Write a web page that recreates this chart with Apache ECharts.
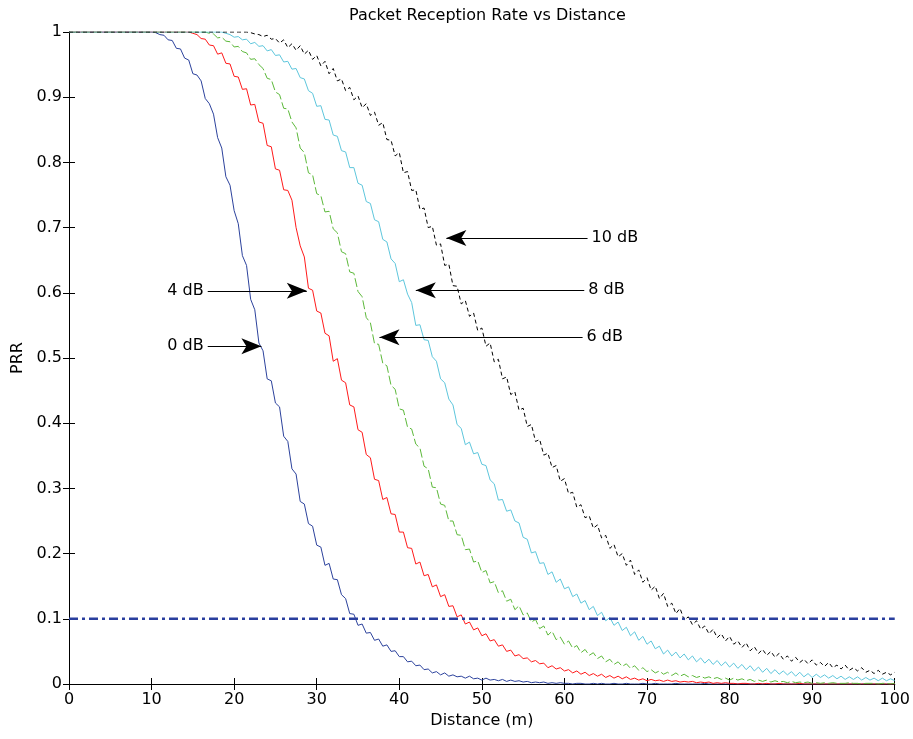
<!DOCTYPE html>
<html><head><meta charset="utf-8">
<script src="https://cdn.jsdelivr.net/npm/echarts@6/dist/echarts.min.js"></script>
<style>html,body{margin:0;padding:0;background:#fff}#c{width:913px;height:739px}</style>
</head><body><div id="c"></div>
<script>
// x: distance in metres, sampled every 0.5 m (0 .. 100)
const distance = Array.from({length:201},(_,i)=>i/2);
const xTicks = [0,10,20,30,40,50,60,70,80,90,100];
const yTicks = [0,0.1,0.2,0.3,0.4,0.5,0.6,0.7,0.8,0.9,1];
const prr0dB = [
1,1,1,1,1,1,1,1,1,1,1,1,1,1,1,1,1,1,1,1,
1,0.999,0.996,0.995,0.988,0.987,0.975,0.974,0.96,0.957,0.936,0.934,0.925,0.898,0.89,0.874,0.838,0.822,0.778,0.765,
0.726,0.706,0.657,0.642,0.59,0.574,0.523,0.511,0.468,0.465,0.431,0.425,0.38,0.372,0.33,0.322,0.28,0.276,0.246,0.242,
0.213,0.21,0.182,0.185,0.161,0.16,0.137,0.131,0.108,0.107,0.09,0.092,0.078,0.079,0.067,0.069,0.058,0.06,0.05,0.051,
0.042,0.042,0.034,0.035,0.028,0.029,0.022,0.023,0.017,0.019,0.014,0.017,0.012,0.014,0.011,0.012,0.009,0.012,0.008,0.009,
0.006,0.009,0.006,0.007,0.005,0.007,0.004,0.006,0.004,0.005,0.003,0.004,0.002,0.003,0.002,0.003,0.001,0.002,0.001,0.002,
0.001,0.001,0,0.001,0.001,0,0,0.001,0,0.001,0,0,0.001,0,0,0.001,0,0,0,0.001,
0,0,0.001,0,0,0,0,0.001,0,0,0,0,0,0,0.001,0,0,0,0,0,
0,0,0,0,0,0,0,0,0,0,0,0,0,0,0,0,0,0,0,0,
0,0,0,0,0,0,0,0,0,0,0,0,0,0,0,0,0,0,0,0,
0];
const prr4dB = [
1,1,1,1,1,1,1,1,1,1,1,1,1,1,1,1,1,1,1,1,
1,1,1,1,1,1,1,1,1,1,0.998,0.996,0.99,0.989,0.98,0.979,0.966,0.968,0.952,0.951,
0.932,0.931,0.912,0.913,0.888,0.889,0.862,0.86,0.826,0.824,0.79,0.788,0.758,0.757,0.742,0.7,0.672,0.655,0.607,0.604,
0.572,0.569,0.538,0.534,0.495,0.499,0.466,0.462,0.428,0.425,0.39,0.386,0.352,0.347,0.314,0.312,0.283,0.286,0.261,0.26,
0.233,0.233,0.209,0.208,0.184,0.187,0.166,0.168,0.149,0.152,0.134,0.137,0.119,0.12,0.103,0.106,0.092,0.095,0.083,0.086,
0.074,0.077,0.066,0.068,0.058,0.06,0.05,0.052,0.043,0.045,0.039,0.04,0.034,0.036,0.031,0.032,0.025,0.028,0.023,0.025,
0.02,0.022,0.017,0.02,0.015,0.018,0.013,0.016,0.012,0.015,0.01,0.013,0.009,0.012,0.008,0.011,0.007,0.009,0.006,0.008,
0.005,0.007,0.005,0.006,0.004,0.006,0.004,0.005,0.003,0.004,0.003,0.004,0.002,0.003,0.002,0.003,0.001,0.002,0.001,0.002,
0.001,0.001,0,0.001,0.001,0,0,0.001,0,0.001,0,0,0.001,0,0,0,0,0.001,0,0,
0,0,0,0,0,0,0,0,0,0,0,0,0,0,0,0,0,0,0,0,
0];
const prr6dB = [
1,1,1,1,1,1,1,1,1,1,1,1,1,1,1,1,1,1,1,1,
1,1,1,1,1,1,1,1,1,1,1,1,1,1,0.998,0.997,0.991,0.992,0.986,0.985,
0.977,0.978,0.97,0.968,0.958,0.959,0.95,0.944,0.929,0.927,0.908,0.904,0.883,0.882,0.862,0.853,0.822,0.815,0.784,0.781,
0.752,0.749,0.724,0.725,0.698,0.692,0.663,0.66,0.632,0.63,0.602,0.594,0.562,0.554,0.522,0.521,0.492,0.488,0.458,0.452,
0.422,0.42,0.394,0.391,0.368,0.362,0.334,0.33,0.302,0.301,0.276,0.274,0.25,0.25,0.229,0.228,0.206,0.207,0.187,0.189,
0.171,0.174,0.155,0.157,0.14,0.143,0.127,0.13,0.114,0.12,0.106,0.109,0.095,0.099,0.085,0.089,0.075,0.081,0.068,0.072,
0.061,0.066,0.055,0.059,0.048,0.053,0.044,0.048,0.039,0.043,0.034,0.038,0.03,0.034,0.027,0.031,0.024,0.028,0.021,0.025,
0.019,0.022,0.017,0.02,0.015,0.018,0.013,0.017,0.012,0.015,0.011,0.013,0.01,0.012,0.009,0.011,0.008,0.01,0.007,0.009,
0.006,0.009,0.006,0.008,0.005,0.007,0.004,0.006,0.004,0.006,0.003,0.005,0.003,0.004,0.002,0.004,0.002,0.003,0.002,0.003,
0.001,0.002,0.001,0.002,0.001,0.002,0.001,0.001,0.001,0.002,0.001,0.001,0,0.001,0.001,0.001,0,0.001,0.001,0,
0.001];
const prr8dB = [
1,1,1,1,1,1,1,1,1,1,1,1,1,1,1,1,1,1,1,1,
1,1,1,1,1,1,1,1,1,1,1,1,1,1,1,1,1,1,0.998,0.996,
0.992,0.993,0.988,0.989,0.982,0.984,0.978,0.979,0.971,0.973,0.964,0.965,0.954,0.955,0.943,0.944,0.93,0.928,0.91,0.906,
0.886,0.887,0.866,0.865,0.842,0.84,0.818,0.816,0.792,0.792,0.768,0.765,0.74,0.737,0.712,0.709,0.682,0.678,0.652,0.645,
0.617,0.62,0.598,0.585,0.55,0.551,0.528,0.527,0.502,0.495,0.468,0.462,0.437,0.428,0.398,0.392,0.367,0.371,0.353,0.355,
0.337,0.335,0.313,0.307,0.282,0.283,0.265,0.267,0.25,0.247,0.225,0.222,0.201,0.203,0.185,0.186,0.168,0.172,0.156,0.161,
0.146,0.149,0.134,0.138,0.124,0.128,0.114,0.119,0.105,0.11,0.097,0.102,0.09,0.095,0.082,0.087,0.074,0.08,0.067,0.073,
0.061,0.066,0.054,0.058,0.046,0.052,0.043,0.049,0.04,0.046,0.037,0.043,0.034,0.04,0.032,0.038,0.03,0.036,0.028,0.034,
0.026,0.032,0.024,0.03,0.022,0.028,0.02,0.026,0.018,0.024,0.016,0.022,0.015,0.02,0.014,0.019,0.012,0.018,0.011,0.016,
0.01,0.015,0.01,0.014,0.009,0.013,0.008,0.012,0.007,0.011,0.007,0.011,0.006,0.01,0.006,0.009,0.005,0.009,0.005,0.008,
0.005];
const prr10dB = [
1,1,1,1,1,1,1,1,1,1,1,1,1,1,1,1,1,1,1,1,
1,1,1,1,1,1,1,1,1,1,1,1,1,1,1,1,1,1,1,1,
1,1,1,1,0.999,0.997,0.996,0.993,0.995,0.989,0.99,0.983,0.988,0.976,0.982,0.972,0.979,0.966,0.972,0.958,
0.964,0.948,0.955,0.936,0.944,0.925,0.928,0.91,0.915,0.896,0.902,0.884,0.89,0.872,0.877,0.857,0.861,0.835,0.834,0.81,
0.815,0.784,0.786,0.757,0.758,0.728,0.73,0.7,0.702,0.673,0.675,0.642,0.644,0.611,0.61,0.583,0.588,0.564,0.569,0.542,
0.546,0.518,0.523,0.494,0.498,0.468,0.471,0.444,0.448,0.42,0.423,0.395,0.398,0.372,0.375,0.351,0.354,0.332,0.335,0.311,
0.315,0.292,0.294,0.271,0.275,0.255,0.258,0.239,0.244,0.224,0.228,0.208,0.214,0.195,0.2,0.182,0.19,0.168,0.175,0.156,
0.163,0.144,0.15,0.131,0.139,0.119,0.124,0.108,0.116,0.098,0.103,0.091,0.097,0.084,0.089,0.077,0.084,0.071,0.077,0.066,
0.073,0.061,0.066,0.056,0.063,0.051,0.057,0.047,0.053,0.044,0.05,0.041,0.047,0.038,0.043,0.035,0.041,0.033,0.038,0.031,
0.037,0.029,0.033,0.027,0.033,0.025,0.029,0.023,0.029,0.021,0.025,0.02,0.025,0.018,0.021,0.016,0.021,0.015,0.018,0.014,
0.018];
const threshold = 0.1;
const annotations = [
  {text:'10 dB', from:[62.8,0.684], to:[45.7,0.684]},
  {text:'8 dB', from:[62.4,0.604], to:[42.0,0.604]},
  {text:'6 dB', from:[62.2,0.532], to:[37.6,0.532]},
  {text:'4 dB', from:[16.8,0.603], to:[28.8,0.603]},
  {text:'0 dB', from:[16.8,0.518], to:[23.3,0.518]}
];

const font = 'DejaVu Sans, Liberation Sans, Arial, sans-serif';
const pairs = arr => distance.map((d,i)=>[d,arr[i]]);
const curve = (name, arr, color, type) => ({
  name, type:'line', data: pairs(arr), showSymbol:false, symbol:'none',
  lineStyle:{color, width:1, type: type || 'solid'}, z:3
});

const chart = echarts.init(document.getElementById('c'), null, {renderer:'canvas'});
const axCommon = {
  min:0, axisLine:{show:true, lineStyle:{color:'#000', width:1}},
  axisTick:{show:true, inside:true, length:6, lineStyle:{color:'#000'}},
  splitLine:{show:false}
};
chart.setOption({
  animation:false,
  backgroundColor:'#fff',
  title:{text:'Packet Reception Rate vs Distance', left:482.5, textAlign:'center', top:3,
    textStyle:{fontFamily:font, fontSize:16, fontWeight:'normal', color:'#000'}},
  grid:{left:69, right:17, top:32, bottom:55},
  xAxis:[
    Object.assign({}, axCommon, {type:'value', position:'bottom', max:100, interval:10,
      name:'Distance (m)', nameLocation:'middle', nameGap:28,
      nameTextStyle:{fontFamily:font, fontSize:16, color:'#000'},
      axisLabel:{fontFamily:font, fontSize:16, color:'#000', margin:8,
        formatter: v => xTicks.includes(v) ? String(v) : ''}}),
    Object.assign({}, axCommon, {type:'value', position:'top', max:100, interval:10, axisLabel:{show:false}})
  ],
  yAxis:[
    Object.assign({}, axCommon, {type:'value', position:'left', max:1, interval:0.1,
      name:'PRR', nameLocation:'middle', nameGap:43,
      nameTextStyle:{fontFamily:font, fontSize:16, color:'#000'},
      axisLabel:{fontFamily:font, fontSize:16, color:'#000', margin:7,
        formatter: v => { const t = yTicks.find(y => Math.abs(y - v) < 1e-9); return t === undefined ? '' : String(t); }}}),
    Object.assign({}, axCommon, {type:'value', position:'right', max:1, interval:0.1, axisLabel:{show:false}})
  ],
  series:[
    curve('0 dB', prr0dB, '#2c429c'),
    curve('4 dB', prr4dB, '#ff1a1a'),
    curve('6 dB', prr6dB, '#5cb83a', [9,3]),
    curve('8 dB', prr8dB, '#5ec6dc'),
    curve('10 dB', prr10dB, '#000000', [4,3]),
    {type:'line', data:[[0,threshold],[100,threshold]], showSymbol:false, symbol:'none',
      lineStyle:{color:'#2a3f9e', width:2.5, type:[9,4,3,4]}, z:4},
    {type:'line', data:[], z:5, silent:true,
      markLine:{silent:true, animation:false, symbol:['none','arrow'], symbolSize:[12,20],
        lineStyle:{color:'#000', width:1, type:'solid'},
        label:{show:true, position:'start', distance:4, fontFamily:font, fontSize:16, color:'#000',
          formatter: p => p.data.name},
        data: annotations.map(a => [
          {coord:a.from, name:a.text},
          {coord:a.to}
        ])
      }}
  ]
});
</script></body></html>
